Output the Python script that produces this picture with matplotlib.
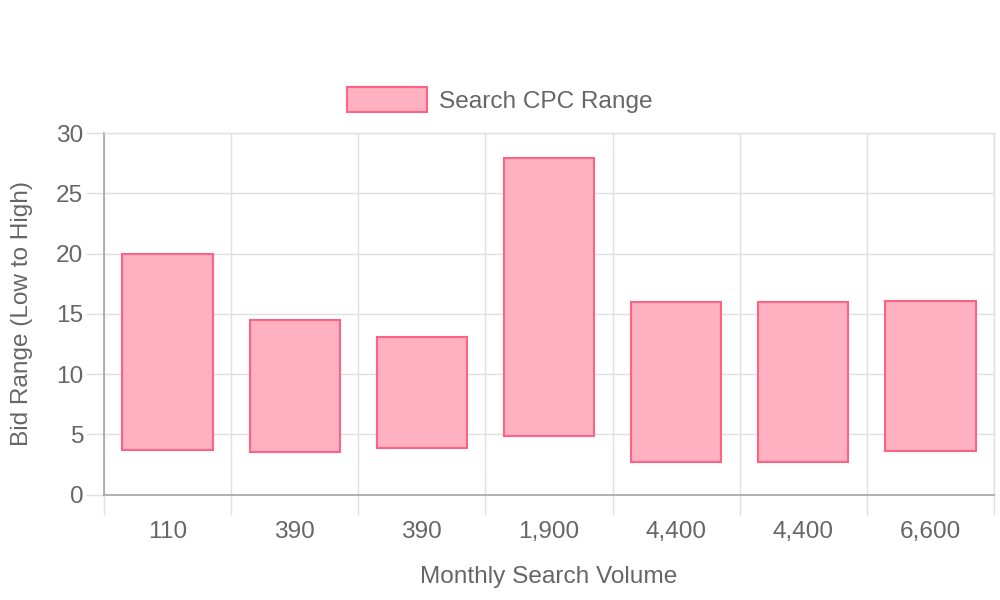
"""
Floating bar chart: search CPC bid range (low to high) per keyword,
labelled by monthly search volume.
"""

import matplotlib
matplotlib.use("Agg")

import matplotlib.pyplot as plt  # noqa: E402
import numpy as np               # noqa: E402

# ─── Data ────────────────────────────────────────────────────────────────────

volume_labels = ["110", "390", "390", "1,900", "4,400", "4,400", "6,600"]
bid_low = [3.73, 3.56, 3.90, 4.86, 2.71, 2.71, 3.59]
bid_high = [20.00, 14.50, 13.07, 27.93, 15.96, 15.96, 16.07]
series_name = "Search CPC Range"

# ─── Style ───────────────────────────────────────────────────────────────────

TEXT = "#666666"
GRID = "#e0e0e0"
AXIS = "#aaaaaa"
FILL = "#ffb1c1"
EDGE = "#ff6384"
FS = 17.6

plt.rcParams["font.family"] = ["Liberation Sans", "DejaVu Sans"]

fig = plt.figure(figsize=(10, 6), dpi=100)
ax = fig.add_axes([0.104, 0.1755, 0.89, 0.6028])

x = np.arange(len(volume_labels))
heights = np.array(bid_high) - np.array(bid_low)
ax.bar(x, heights, bottom=bid_low, width=0.71, color=FILL,
       edgecolor=EDGE, linewidth=1.5, label=series_name, zorder=3)

# ── axes / grid ──────────────────────────────────────────────────────────
ax.set_xlim(-0.5, len(volume_labels) - 0.5)
ax.set_ylim(0, 30)
ax.set_yticks(np.arange(0, 31, 5))
ax.set_xticks(x)
ax.set_xticklabels(volume_labels)
ax.set_xticks(np.arange(-0.5, len(volume_labels)), minor=True)

ax.grid(True, axis="y", color=GRID, linewidth=1, zorder=0)
ax.grid(True, axis="x", which="minor", color=GRID, linewidth=1, zorder=0)

ax.tick_params(axis="y", length=13, width=1, color=GRID, pad=2,
               labelsize=FS, labelcolor=TEXT)
ax.tick_params(axis="x", which="major", length=0, pad=19,
               labelsize=FS, labelcolor=TEXT)
ax.tick_params(axis="x", which="minor", length=14.5, width=1, color=GRID)

for side in ("top", "right"):
    ax.spines[side].set_color(GRID)
    ax.spines[side].set_linewidth(1)
for side in ("left", "bottom"):
    ax.spines[side].set_color(AXIS)
    ax.spines[side].set_linewidth(1.3)

ax.set_xlabel("Monthly Search Volume", fontsize=FS, color=TEXT, va="center")
ax.xaxis.set_label_coords(0.5, -0.2275)
ax.set_ylabel("Bid Range (Low to High)", fontsize=FS, color=TEXT, va="center")
ax.yaxis.set_label_coords(-0.0921, 0.5)

# ── legend ───────────────────────────────────────────────────────────────
fig.legend(loc="center", bbox_to_anchor=(0.5, 0.833), frameon=False,
           fontsize=FS, labelcolor=TEXT, handlelength=3.25, handleheight=1.2,
           handletextpad=0.5)

fig.savefig("out.png", dpi=100)
